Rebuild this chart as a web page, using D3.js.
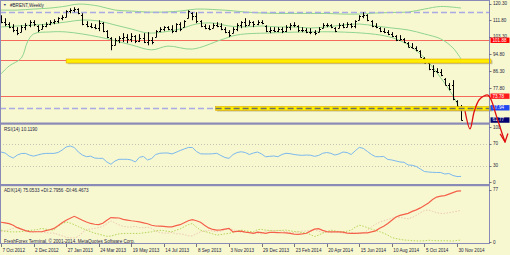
<!DOCTYPE html>
<html>
<head>
<meta charset="utf-8">
<script src="https://cdn.jsdelivr.net/npm/d3@7"></script>
<style>
  body { margin: 0; background: #f8f8d0; }
  svg { display: block; font-family: "Liberation Sans", Arial, sans-serif; }
</style>
</head>
<body>
<svg id="chart" width="510" height="255"></svg>
<script>
// weekly BRENT bars, first bar = week of 7 Oct 2012
var high = [114.4,112.9,110.9,109.9,108.4,109.4,110.4,111.9,111.9,109.4,
  109.9,110.9,111.9,112.4,113.4,114.4,116.9,117.9,118.4,117.9,
  115.4,111.4,110.4,109.9,111.9,110.9,106.9,103.4,102.9,103.9,
  105.4,104.9,105.4,104.4,104.9,105.4,105.9,103.4,106.9,108.4,
  108.9,108.9,109.4,110.4,110.9,111.9,116.9,115.9,115.9,111.9,
  109.9,109.4,110.4,110.9,110.4,108.4,106.9,108.4,110.4,111.4,
  112.9,111.9,111.4,111.9,111.9,109.4,108.4,108.4,108.4,108.4,
  109.4,110.4,110.9,109.4,108.4,107.9,107.9,106.9,108.4,110.4,
  110.4,109.9,108.4,110.4,110.4,110.9,110.4,111.9,114.4,115.9,
  114.9,111.9,110.4,108.4,107.9,106.9,105.9,104.4,104.4,102.9,
  100.9,100.4,98.8,96.8,93.3,90.8,89.3,87.8,87.3,82.8,
  80.3,81.8,71.7,69.3];
var low = [110.4,108.9,107.9,105.9,104.4,105.9,106.9,108.4,108.9,105.9,
  107.4,108.4,109.4,109.9,110.4,111.9,113.4,115.4,115.9,114.9,
  109.4,108.4,107.9,107.4,106.4,105.9,102.9,96.8,99.3,100.4,
  100.9,100.4,100.9,100.4,100.9,100.4,99.3,99.8,103.4,105.9,
  106.4,106.9,105.4,105.9,106.4,108.4,112.9,111.9,110.4,108.4,
  107.4,106.9,107.9,108.4,106.9,105.4,103.4,105.4,106.4,107.9,
  108.4,109.4,108.4,109.4,109.9,105.9,105.4,105.9,105.9,105.4,
  105.9,106.9,108.4,105.9,105.9,105.4,104.9,104.4,105.9,107.9,
  108.4,107.9,105.9,107.9,107.9,108.4,107.9,107.9,111.9,112.9,
  111.4,108.4,107.9,105.9,105.4,104.4,103.4,101.4,101.9,100.4,
  98.3,97.8,96.3,93.3,90.3,86.8,83.3,85.3,83.8,79.2,
  76.7,71.7,68.2,61.5];
var open = [112.0,111.0,110.0,108.5,107.0,106.0,108.5,109.5,111.0,109.0,
  107.5,109.0,110.0,111.0,111.5,113.0,113.5,116.5,117.0,117.5,
  114.5,110.0,109.0,108.5,108.0,110.5,106.5,103.0,99.5,102.0,
  103.0,103.5,102.5,104.0,101.5,103.0,101.0,102.0,103.5,106.5,
  107.5,108.5,107.5,106.5,110.0,108.5,113.0,115.5,114.0,111.5,
  109.0,108.0,108.0,109.5,109.0,107.5,106.0,105.5,107.5,109.5,
  111.0,109.5,111.0,110.0,111.0,109.0,106.5,107.0,106.5,107.5,
  106.5,108.5,109.5,109.0,107.0,107.0,106.0,106.0,106.0,108.0,
  109.5,109.5,108.0,108.0,109.5,108.5,110.0,109.0,112.0,114.0,
  114.5,111.5,109.0,108.0,106.5,106.0,105.0,104.0,102.0,102.5,
  100.5,98.5,98.0,96.5,93.0,90.5,87.5,86.5,86.0,82.5,
  79.5,79.5,71.5,68.5];
var close = [111.0,110.0,108.5,107.0,105.5,108.5,109.5,111.0,110.0,107.0,
  109.0,110.0,111.0,111.5,113.0,113.5,116.5,117.0,117.5,115.5,
  110.0,109.0,108.5,108.0,110.5,106.5,103.5,99.5,102.0,103.0,
  103.5,102.5,104.0,101.5,103.0,101.0,102.0,101.0,106.5,107.5,
  108.5,107.5,106.5,110.0,107.5,111.5,116.5,114.0,111.5,109.0,
  108.0,107.5,109.5,109.0,107.5,106.0,104.5,107.5,109.5,111.0,
  109.5,111.0,110.0,111.0,110.5,106.5,107.0,106.5,107.5,106.5,
  108.5,109.5,109.5,107.0,107.0,106.0,106.0,105.5,107.5,109.5,
  109.5,108.5,106.5,109.5,108.5,110.0,109.0,111.5,114.0,114.5,
  112.0,109.0,108.5,106.5,106.0,105.0,104.0,102.0,102.5,101.0,
  98.5,98.0,97.0,93.5,90.5,87.5,86.5,86.0,84.5,79.5,
  77.5,72.5,69.0,61.8];

// bollinger bands, [week, price]
var bbUpper = [[0,117.0],[4,117.0],[8,117.5],[12,118.0],[16,119.0],[18,119.8],[20,120.0],[24,119.0],[28,117.0],[32,116.5],
  [36,116.0],[40,116.0],[44,116.5],[48,117.5],[52,117.3],[56,116.8],[60,116.0],[64,115.5],[68,115.3],[72,115.3],
  [76,115.3],[80,115.3],[84,115.0],[88,115.0],[92,115.5],[96,115.8],[100,116.0],[104,117.5],[108,118.8],[113,118.0]];
var bbMiddle = [[0,108.5],[4,109.0],[8,109.5],[12,110.0],[16,111.0],[20,112.0],[24,111.5],[28,109.5],[32,107.5],[36,105.5],
  [40,106.0],[44,107.5],[48,110.0],[52,110.5],[56,109.0],[60,108.5],[64,109.0],[68,108.5],[72,108.5],[76,108.0],
  [80,108.5],[84,109.5],[88,110.0],[92,109.0],[96,108.0],[100,107.0],[104,105.0],[108,102.5],[111,98.0],[113,92.4]];
var bbLower = [[0,84.9],[2,88.9],[5,92.9],[6.5,101.0],[8,105.0],[12,106.0],[16,106.0],[24,103.5],[32,99.5],[37,97.0],
  [41,98.9],[47,97.4],[54,102.0],[58,104.5],[66,105.5],[83,106.0],[93,104.5],[97,102.5],[100,99.5],[104,93.0],
  [108,83.0],[111,74.0],[113,66.0]];

var rsi = [54.5,52.7,47,43.6,49,51.8,52,49,47,49,
  51,52,52,52,53.6,58,63.6,65.5,62.7,54.5,
  49,46,47,43.6,43,43,36.4,32.2,38.2,41.3,
  41.3,41.3,40,36.4,45,46.4,40,42.7,50,52.2,
  52.7,52.7,51,54,57.3,60,62.7,62.7,55.5,51.3,
  51,51,51.3,52.2,48.2,44.5,43,50,53.6,55,
  53.6,50,52.7,54.5,51,45.8,46.7,47.3,46,50,
  52.2,51.5,50,49,48.5,49,48.7,46.7,48.2,52.2,
  53.6,52.2,49,51,54.5,53.6,50,56.7,63,61,
  55.5,50,46,46,46.4,41,40,38.2,36.4,35.8,
  31,30.4,28.2,23.6,19,18.2,17.6,17.3,17.3,14.5,
  15.5,11.8,10,10.119];

var adx = [29,28,27,24.6,21,18.8,16.7,15.2,15,15,
  15,16.7,18,19.9,24,28.3,31.9,34.8,37.7,34.8,
  31.9,29.3,27.2,26,25.6,27.5,31.9,35.8,35.5,35.2,
  33.3,32.2,31.2,30.4,29.4,28.1,26.8,24.6,23.5,23.2,
  22.8,22.3,22.2,24,25.4,28.3,31.2,32.9,31.2,29,
  24.6,20.7,18.4,17.4,17.8,18.8,19.9,14.9,15.7,15.9,
  14.5,13.8,12.8,14.5,13.8,12.6,14,14,13.8,13.6,
  13.5,12.6,11.6,11.2,11.9,12.8,15.9,18.8,19.6,17,
  15.2,14.9,14.9,14.9,14.5,13,12.6,12.6,13,13.3,
  13.5,14.9,16.4,20.3,23.2,27.1,31.9,36.7,39.1,40.6,
  42,44.9,47.1,50,53.6,57.2,62.3,65.9,67.4,68.1,
  70.3,72.5,74.6,75.0533];
var plusDI = [17.4,15.9,14.9,14.9,14.9,15.2,16.2,17,17.4,18.4,
  19.9,18.8,17.8,17.4,23.2,26.8,29.4,27.8,25.4,22.5,
  19.9,17.4,15.2,13,11.6,9.9,8.4,8.7,10.4,11.9,
  12.6,12.6,12.6,12.6,12.6,13.3,14.2,14.9,16.4,17.1,
  16.7,15.5,14.9,17.4,19.1,22.5,25.4,27.1,21.7,17.4,
  15.6,13.8,11.9,10.1,10.9,11.9,12.6,14.2,16.2,17.4,
  16.4,15.6,14.9,18.1,18.5,17.4,17,16.4,16.7,17.1,
  17.4,16.4,15.4,14.8,13.8,13.3,10.9,8,10.1,13,
  15.2,17.4,16.4,15.2,14.9,15.9,17.4,21.7,24.6,23.2,
  21,18.8,17,15.2,13,10.1,6.5,5.1,3.9,2.9,
  2.5,2.0,1.6,1.5,1.8,2.6,2.2,1.9,1.7,2.0,
  1.6,1.4,2.3,2.7956];
var minusDI = [15,16,18,20,22,19,17,15,14,16,15,14,13,13,
  11,9,7,6,6,8,
  14,18,19,20,21,23,27,31,
  28,25,23,22,22,23,21,21,22,20,
  16,14,13,13,14,12,12,11,
  9,9,12,15,16,17,16,15,16,18,20,
  18,16,14,14,14,13,13,12,
  16,17,17,17,16,15,14,14,15,16,16,17,18,
  16,14,14,14,15,14,13,
  14,14,13,12,13,17,22,26,29,31,33,
  35,36,36,35,34,36,39,43,46,47,45,43,42,42,43,44,45,46.4673];

var dateLabels = ["7 Oct 2012","2 Dec 2012","27 Jan 2013","24 Mar 2013","19 May 2013","14 Jul 2013",
  "8 Sep 2013","3 Nov 2013","29 Dec 2013","23 Feb 2014","20 Apr 2014","15 Jun 2014",
  "10 Aug 2014","5 Oct 2014","30 Nov 2014"];
// 69.30 and 60.80 sit under the price boxes in the picture, so only the visible ones
var priceTicks = ["120.30","111.80","103.30","94.80","86.30","77.80"];
var rsiTicks = [100, 70, 30, 0];
var rsiLevels = [70, 30];
var adxTicks = [77, 0];

var redLevels = [101.88, 91.90, 73.78];
var dashedLevels = [116.0, 67.94];
var highlightFrom = ["27 Jan 2013", "11 Oct 2013"];
var highlightPrice = [91.3, 67.5];
var boxPrices = [101.88, 73.78, 67.94, 61.77];
var boxColors = ["#ff0000", "#ff1c1c", "#1f48f0", "#00006e"];

// hand drawn arrow, [week, price]
var arrowPath = [[114.0,66.0],[115.2,57.3],[116.2,65.8],[117.4,71.8],[118.6,73.8],[119.6,74.3],
  [120.4,71.8],[121.6,64.3],[122.8,56.7],[123.8,50.7]];
var arrowHead = [[122.6,54.8],[123.8,50.7],[124.5,55.0]];

var svg = d3.select("#chart");
var W = 510, H = 255;
var axisX = 489.5;
var ink = "#1e1e40";

svg.append("rect").attr("width", W).attr("height", H).attr("fill", "#f8f8d0");

var parse = d3.utcParse("%d %b %Y");
var t0 = parse(dateLabels[0]);
var x = d3.scaleUtc()
  .domain([t0, parse(dateLabels[dateLabels.length - 1])])
  .range([1, 457]);
function xw(w) { return x(new Date(t0.getTime() + w * 7 * 864e5)); }
function px(v) { return Math.round(v) + 0.5; }

var y = d3.scaleLinear().domain([60.8, 120.3]).range([121.9, 3.5]);
var yR = d3.scaleLinear().domain([0, 100]).range([182, 127]);
var yA = d3.scaleLinear().domain([0, 77]).range([242, 189.5]);

var defs = svg.append("defs");
defs.append("clipPath").attr("id", "clipMain").append("rect")
  .attr("x", 0).attr("y", 0).attr("width", axisX).attr("height", 122.5);
defs.append("clipPath").attr("id", "clipRsi").append("rect")
  .attr("x", 0).attr("y", 125).attr("width", axisX).attr("height", 59);
defs.append("clipPath").attr("id", "clipAdx").append("rect")
  .attr("x", 0).attr("y", 186.5).attr("width", axisX).attr("height", 57);

// ---------- main panel
var main = svg.append("g").attr("clip-path", "url(#clipMain)");

main.selectAll(".red").data(redLevels).enter().append("line")
  .attr("x1", 0).attr("x2", axisX)
  .attr("y1", function(d) { return px(y(d)); }).attr("y2", function(d) { return px(y(d)); })
  .attr("stroke", "#f56a5a").attr("stroke-width", 1);

var bandLine = d3.line()
  .x(function(d) { return xw(d[0]); })
  .y(function(d) { return y(d[1]); })
  .curve(d3.curveCatmullRom);
[bbUpper, bbMiddle, bbLower].forEach(function(b) {
  main.append("path").attr("d", bandLine(b))
    .attr("fill", "none").attr("stroke", "#8fd48f").attr("stroke-width", 1);
});

// yellow highlights
highlightFrom.forEach(function(f, k) {
  var x0 = x(parse(f)), yc = y(highlightPrice[k]);
  svg.append("rect").attr("x", x0 + 1.5).attr("y", yc - 1).attr("width", 491 - x0).attr("height", 4)
    .attr("fill", "#9a9a7a").attr("opacity", 0.55);
  svg.append("rect").attr("x", x0).attr("y", yc - 2.2).attr("width", 491 - x0).attr("height", 4)
    .attr("fill", "#ffee00").attr("stroke", "#e0a800").attr("stroke-width", 0.6);
});

dashedLevels.forEach(function(d, k) {
  var yy = px(y(d));
  main.append("line").attr("x1", 0).attr("x2", axisX).attr("y1", yy).attr("y2", yy)
    .attr("stroke", "#a9a9e4").attr("stroke-width", 1.6).attr("stroke-dasharray", "6,3");
  if (k === 1) {
    var xs = x(parse(highlightFrom[1]));
    svg.append("line").attr("x1", xs).attr("x2", axisX).attr("y1", yy).attr("y2", yy)
      .attr("stroke", "#6e6e64").attr("stroke-width", 1.4).attr("stroke-dasharray", "6,3");
  }
});

// OHLC bars
var bars = main.selectAll(".bar").data(high).enter().append("g");
bars.append("line")
  .attr("x1", function(d, i) { return px(xw(i)); }).attr("x2", function(d, i) { return px(xw(i)); })
  .attr("y1", function(d, i) { return y(high[i]); }).attr("y2", function(d, i) { return y(low[i]); })
  .attr("stroke", "#000").attr("stroke-width", 1);
bars.append("line")
  .attr("x1", function(d, i) { return px(xw(i)) - 1.5; }).attr("x2", function(d, i) { return px(xw(i)); })
  .attr("y1", function(d, i) { return px(y(open[i])); }).attr("y2", function(d, i) { return px(y(open[i])); })
  .attr("stroke", "#000").attr("stroke-width", 1);
bars.append("line")
  .attr("x1", function(d, i) { return px(xw(i)); }).attr("x2", function(d, i) { return px(xw(i)) + 1.5; })
  .attr("y1", function(d, i) { return px(y(close[i])); }).attr("y2", function(d, i) { return px(y(close[i])); })
  .attr("stroke", "#000").attr("stroke-width", 1);

// ---------- RSI panel
var rp = svg.append("g").attr("clip-path", "url(#clipRsi)");
rp.selectAll(".lvl").data(rsiLevels).enter().append("line")
  .attr("x1", 0).attr("x2", axisX)
  .attr("y1", function(d) { return px(yR(d)); }).attr("y2", function(d) { return px(yR(d)); })
  .attr("stroke", "#c4c4b4").attr("stroke-width", 1).attr("stroke-dasharray", "1,2");
rp.append("path")
  .attr("d", d3.line().x(function(d, i) { return xw(i); }).y(function(d) { return yR(d); })(rsi))
  .attr("fill", "none").attr("stroke", "#7ab8ee").attr("stroke-width", 1);

// ---------- ADX panel
var ap = svg.append("g").attr("clip-path", "url(#clipAdx)");
var adxLine = d3.line().x(function(d, i) { return xw(i); }).y(function(d) { return yA(d); });
ap.append("path").attr("d", adxLine(minusDI))
  .attr("fill", "none").attr("stroke", "#ecc8b4").attr("stroke-width", 1).attr("stroke-dasharray", "1.5,1.5");
ap.append("path").attr("d", adxLine(plusDI))
  .attr("fill", "none").attr("stroke", "#b4d45a").attr("stroke-width", 1).attr("stroke-dasharray", "1.5,1.5");
ap.append("path").attr("d", adxLine(adx))
  .attr("fill", "none").attr("stroke", "#f4604a").attr("stroke-width", 1.2);

// ---------- frames
var frame = "#8a8ab6";
svg.append("line").attr("x1", 0.5).attr("x2", 0.5).attr("y1", 0).attr("y2", 244).attr("stroke", frame);
svg.append("line").attr("x1", 0).attr("x2", axisX).attr("y1", 0.5).attr("y2", 0.5).attr("stroke", frame);
svg.append("rect").attr("x", 0).attr("y", 122.5).attr("width", axisX + 0.5).attr("height", 2.2).attr("fill", frame);
svg.append("rect").attr("x", 0).attr("y", 184).attr("width", axisX + 0.5).attr("height", 2.2).attr("fill", frame);
svg.append("line").attr("x1", 0).attr("x2", axisX).attr("y1", 243.5).attr("y2", 243.5).attr("stroke", frame);
svg.append("line").attr("x1", axisX).attr("x2", axisX).attr("y1", 0).attr("y2", 244).attr("stroke", frame);

// ---------- labels
var fs = 4.6;
function label(xx, yy, txt, col) {
  return svg.append("text").attr("x", xx).attr("y", yy).attr("dominant-baseline", "central")
    .attr("font-size", fs).attr("fill", col || ink).text(txt);
}

priceTicks.forEach(function(t) {
  var yy = y(+t);
  svg.append("line").attr("x1", axisX).attr("x2", axisX + 2).attr("y1", px(yy)).attr("y2", px(yy)).attr("stroke", ink).attr("stroke-width", 0.6);
  label(493, yy - (t === "103.30" ? 1.2 : 0), t);
});
boxPrices.forEach(function(p, k) {
  var yy = y(p);
  svg.append("rect").attr("x", 490.5).attr("y", yy - 2.6).attr("width", 19).attr("height", 5.4).attr("fill", boxColors[k]);
  label(492.5, yy, d3.format(".2f")(p), "#fff");
});
rsiTicks.forEach(function(t) {
  svg.append("line").attr("x1", axisX).attr("x2", axisX + 2).attr("y1", px(yR(t))).attr("y2", px(yR(t))).attr("stroke", ink).attr("stroke-width", 0.6);
  label(493, yR(t), t);
});
adxTicks.forEach(function(t) {
  svg.append("line").attr("x1", axisX).attr("x2", axisX + 2).attr("y1", px(yA(t))).attr("y2", px(yA(t))).attr("stroke", ink).attr("stroke-width", 0.6);
  label(493, yA(t), t);
});

dateLabels.forEach(function(d) {
  var xx = x(parse(d));
  svg.append("line").attr("x1", px(xx)).attr("x2", px(xx)).attr("y1", 244).attr("y2", 247).attr("stroke", ink).attr("stroke-width", 0.6);
  label(xx + 1.5, 250.5, d);
});

label(3, 5, "\u25BC", "#303070").attr("font-size", 3.6);
label(10, 5, "#BRENT,Weekly");
label(4, 129.5, "RSI(14) 10.1190");
label(4, 190.5, "ADX(14) 75.0533 +DI:2.7956 -DI:46.4673");
label(4, 241, "FreshForex Terminal, \u00A9 2001-2014, MetaQuotes Software Corp.");

// ---------- red hand-drawn arrow
var arrowLine = d3.line().x(function(d) { return xw(d[0]); }).y(function(d) { return y(d[1]); });
svg.append("path").attr("d", arrowLine.curve(d3.curveCatmullRom)(arrowPath))
  .attr("fill", "none").attr("stroke", "#e01010").attr("stroke-width", 1.3).attr("stroke-linecap", "round");
svg.append("path").attr("d", d3.line().x(function(d) { return xw(d[0]); }).y(function(d) { return y(d[1]); })(arrowHead))
  .attr("fill", "none").attr("stroke", "#e01010").attr("stroke-width", 1.3).attr("stroke-linejoin", "round");
</script>
</body>
</html>
